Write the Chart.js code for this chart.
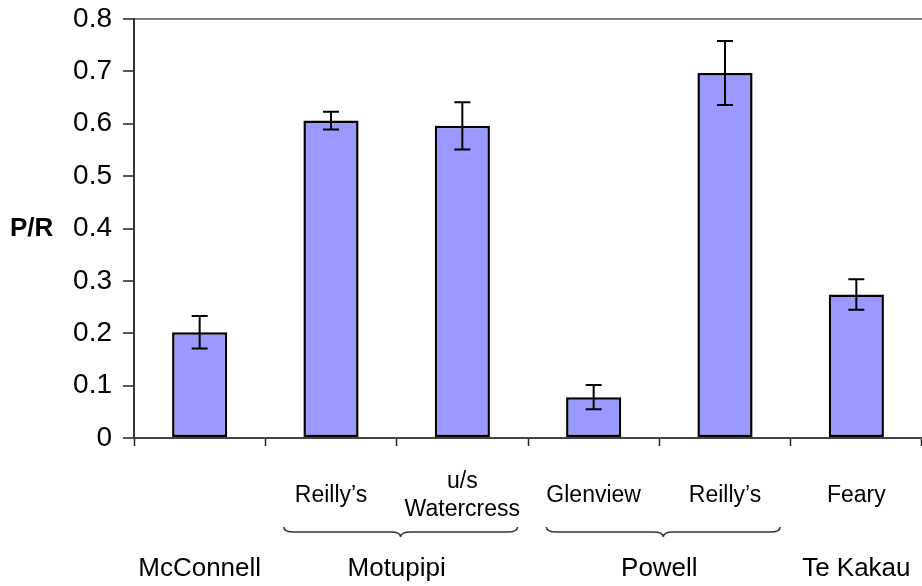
<!DOCTYPE html>
<html>
<head>
<meta charset="utf-8">
<script src="https://cdn.jsdelivr.net/npm/chart.js@4/dist/chart.umd.min.js"></script>
<style>
  html, body { margin: 0; padding: 0; background: #fff; overflow: hidden; }
  #wrap { width: 922px; height: 586px; position: relative; }
</style>
</head>
<body>
<div id="wrap"><canvas id="prChart"></canvas></div>
<script>
// P/R ratio per site, with error bars
const siteLabels = [[''], ['Reilly\u2019s'], ['u/s', 'Watercress'], ['Glenview'], ['Reilly\u2019s'], ['Feary']];
const prValues = [0.202, 0.606, 0.596, 0.078, 0.697, 0.274];
const prErrors = [0.031, 0.017, 0.045, 0.023, 0.061, 0.029];
const yTicks = [0, 0.1, 0.2, 0.3, 0.4, 0.5, 0.6, 0.7, 0.8];

// river groups: name and first/last site index
const groupNames = ['McConnell', 'Motupipi', 'Powell', 'Te Kakau'];
const groupFirst = [0, 1, 3, 5];
const groupLast = [0, 2, 4, 5];

const FONT = "'Liberation Sans', Arial, sans-serif";

const errorBars = {
    id: 'errorBars',
    afterDatasetsDraw(chart) {
        const ctx = chart.ctx;
        const y = chart.scales.y;
        const meta = chart.getDatasetMeta(0);
        ctx.save();
        ctx.strokeStyle = '#000';
        ctx.lineWidth = 2;
        meta.data.forEach((bar, i) => {
            const hi = y.getPixelForValue(prValues[i] + prErrors[i]);
            const lo = y.getPixelForValue(prValues[i] - prErrors[i]);
            ctx.beginPath();
            ctx.moveTo(bar.x, hi); ctx.lineTo(bar.x, lo);
            ctx.moveTo(bar.x - 8, hi); ctx.lineTo(bar.x + 8, hi);
            ctx.moveTo(bar.x - 8, lo); ctx.lineTo(bar.x + 8, lo);
            ctx.stroke();
        });
        ctx.restore();
    }
};

function drawBrace(ctx, x1, x2, top, h) {
    const mid = (x1 + x2) / 2;
    const r = 10;
    const m = top + h / 2;
    ctx.beginPath();
    ctx.moveTo(x1, top);
    ctx.quadraticCurveTo(x1, m, x1 + r, m);
    ctx.lineTo(mid - r, m);
    ctx.quadraticCurveTo(mid, m, mid, top + h);
    ctx.quadraticCurveTo(mid, m, mid + r, m);
    ctx.lineTo(x2 - r, m);
    ctx.quadraticCurveTo(x2, m, x2, top);
    ctx.stroke();
}

const groupLabels = {
    id: 'groupLabels',
    afterDraw(chart) {
        const ctx = chart.ctx;
        const x = chart.scales.x;
        const w = x.getPixelForValue(1) - x.getPixelForValue(0);
        ctx.save();
        ctx.fillStyle = '#000';
        ctx.textAlign = 'center';
        ctx.textBaseline = 'middle';
        ctx.font = '26px ' + FONT;
        groupNames.forEach((name, g) => {
            const a = x.getPixelForValue(groupFirst[g]);
            const b = x.getPixelForValue(groupLast[g]);
            ctx.fillText(name, (a + b) / 2, 569);
            if (groupLast[g] > groupFirst[g]) {
                ctx.strokeStyle = '#333';
                ctx.lineWidth = 1.5;
                drawBrace(ctx, a - 0.36 * w, b + 0.42 * w, 527, 10);
            }
        });
        // y axis title, horizontal
        ctx.font = 'bold 26px ' + FONT;
        ctx.textAlign = 'left';
        ctx.fillText('P/R', 10, chart.scales.y.getPixelForValue(0.4));
        ctx.restore();
    }
};

new Chart(document.getElementById('prChart'), {
    type: 'bar',
    data: {
        labels: siteLabels,
        datasets: [{
            data: prValues,
            backgroundColor: '#9999FF',
            borderColor: '#000',
            borderWidth: 2.5,
            borderSkipped: false,
            barPercentage: 0.42,
            categoryPercentage: 1
        }]
    },
    options: {
        responsive: true,
        maintainAspectRatio: false,
        devicePixelRatio: 1,
        animation: false,
        layout: { padding: { top: 19, right: 0, bottom: 0, left: 0 } },
        plugins: { legend: { display: false }, tooltip: { enabled: false } },
        scales: {
            x: {
                afterFit(scale) { scale.height = 148; },
                grid: {
                    offset: true,
                    color: 'rgba(0,0,0,0)',
                    tickColor: '#222',
                    tickLength: 8,
                    tickWidth: 1.5
                },
                border: { color: '#444', width: 2 },
                ticks: {
                    color: '#000',
                    font: { family: FONT, size: 23 },
                    padding: 36,
                    crossAlign: 'center',
                    maxRotation: 0,
                    autoSkip: false
                }
            },
            y: {
                min: 0,
                max: 0.8,
                afterFit(scale) {
                    scale.width = 134;
                    scale.paddingTop = 0;
                    scale.paddingBottom = 0;
                },
                afterBuildTicks(scale) { scale.ticks = yTicks.map(v => ({ value: v })); },
                grid: {
                    color: ctx => (ctx.tick && Math.abs(ctx.tick.value - 0.8) < 1e-6) ? '#808080' : 'rgba(0,0,0,0)',
                    lineWidth: 2,
                    tickColor: '#222',
                    tickLength: 11,
                    tickWidth: 1.5
                },
                border: { color: '#333', width: 2 },
                ticks: {
                    color: '#000',
                    font: { family: FONT, size: 28 },
                    padding: 11
                }
            }
        }
    },
    plugins: [errorBars, groupLabels]
});
</script>
</body>
</html>
